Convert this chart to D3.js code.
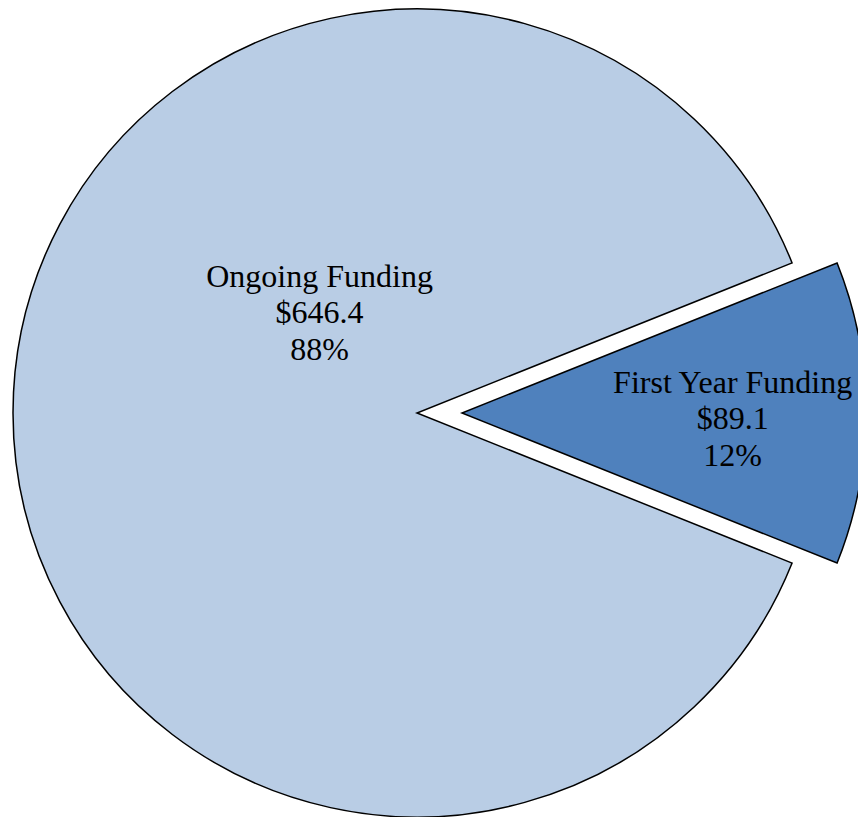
<!DOCTYPE html>
<html>
<head>
<meta charset="utf-8">
<script src="https://cdn.jsdelivr.net/npm/d3@7"></script>
<style>
  html, body { margin: 0; padding: 0; background: #ffffff; }
  svg { display: block; }
  text { font-family: "Liberation Serif", "Times New Roman", serif; fill: #000; }
</style>
</head>
<body>
<svg id="chart" width="858" height="817"></svg>
<script>
// Funding split (millions of dollars)
const categories = ["Ongoing Funding", "First Year Funding"];
const values = [646.4, 89.1];
const percentLabels = ["88%", "12%"];
const amountLabels = ["$646.4", "$89.1"];
const fills = ["#B9CDE5", "#4F81BD"];
const exploded = [false, true];

const width = 858, height = 817;
const cx = 417, cy = 413, radius = 404;
const explodeDist = 45;
const fontSize = 32, lineHeight = 36.5;

const svg = d3.select("#chart");
const g = svg.append("g").attr("transform", `translate(${cx},${cy})`);

// Centre the smaller slice on the 3 o'clock direction
const total = d3.sum(values);
const halfSmall = Math.PI * values[1] / total;
const start = Math.PI / 2 + halfSmall;

const pie = d3.pie().sort(null).value(d => d)
  .startAngle(start).endAngle(start + 2 * Math.PI);
const arcs = pie(values);
const arc = d3.arc().innerRadius(0).outerRadius(radius);

const offset = (d, i) => {
  if (!exploded[i]) return [0, 0];
  const mid = (d.startAngle + d.endAngle) / 2;
  return [Math.sin(mid) * explodeDist, -Math.cos(mid) * explodeDist];
};

g.selectAll("path.slice")
  .data(arcs)
  .join("path")
  .attr("class", "slice")
  .attr("transform", (d, i) => { const o = offset(d, i); return `translate(${o[0]},${o[1]})`; })
  .attr("d", arc)
  .attr("fill", (d, i) => fills[i])
  .attr("stroke", "#000")
  .attr("stroke-width", 1.5)
  .attr("stroke-linejoin", "miter");

// Label anchor: polar position (angle from 12 o'clock, fraction of radius)
const labelPolar = [
  { angle: -0.76, frac: 0.35 },
  { angle: 1.583, frac: 0.67 }
];

arcs.forEach((d, i) => {
  const o = offset(d, i);
  const mid = labelPolar[i].angle;
  const r = radius * labelPolar[i].frac;
  const x = o[0] + Math.sin(mid) * r;
  const y = o[1] - Math.cos(mid) * r;
  const lines = [categories[i], amountLabels[i], percentLabels[i]];
  const t = g.append("text")
    .attr("text-anchor", "middle")
    .attr("font-size", fontSize);
  lines.forEach((line, k) => {
    t.append("tspan")
      .attr("x", x)
      .attr("y", y + (k - 1) * lineHeight + fontSize * 0.4)
      .text(line);
  });
});
</script>
</body>
</html>
